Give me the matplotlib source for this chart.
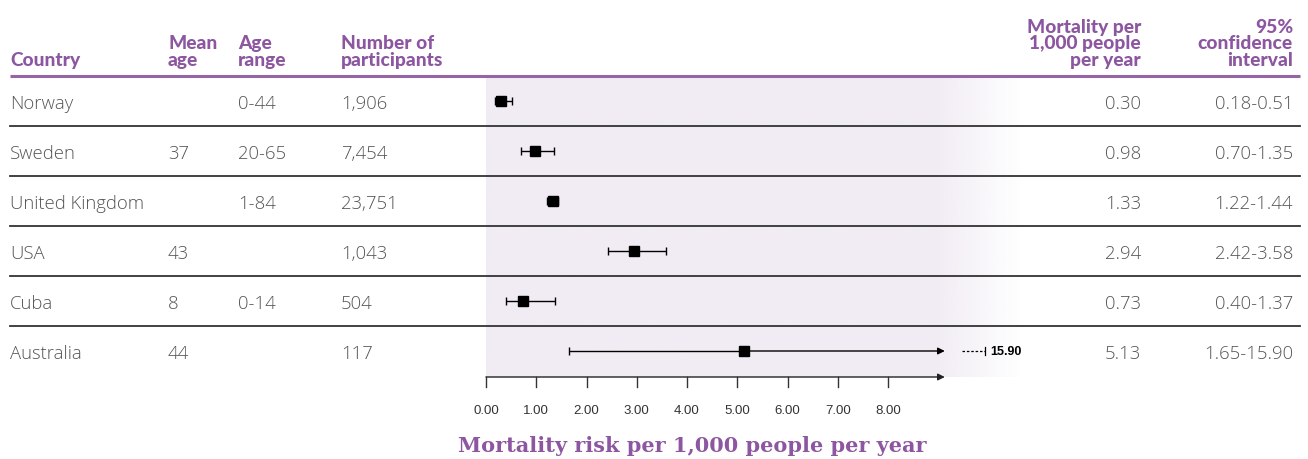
import numpy as np
import matplotlib
matplotlib.use("Agg")
import matplotlib.pyplot as plt
from matplotlib.transforms import blended_transform_factory

# ---------------- data ----------------
countries = ["Norway", "Sweden", "United Kingdom", "USA", "Cuba", "Australia"]
mean_age = ["", "37", "", "43", "8", "44"]
age_range = ["0-44", "20-65", "1-84", "", "0-14", ""]
participants = ["1,906", "7,454", "23,751", "1,043", "504", "117"]
mortality = [0.30, 0.98, 1.33, 2.94, 0.73, 5.13]
ci_low = [0.18, 0.70, 1.22, 2.42, 0.40, 1.65]
ci_high = [0.51, 1.35, 1.44, 3.58, 1.37, 15.90]
ticks = [0, 1, 2, 3, 4, 5, 6, 7, 8]
axis_max = 9.13          # where the drawn axis (and truncated bars) end

headers_left = ["Country", "Mean\nage", "Age\nrange", "Number of\nparticipants"]
headers_right = ["Mortality per\n1,000 people\nper year", "95%\nconfidence\ninterval"]
x_title = "Mortality risk per 1,000 people per year"

PURPLE = "#8d56a0"
GRAY = "#555555"
SHADE = np.array([241, 236, 244]) / 255.0

W, H = 1308, 460
fig = plt.figure(figsize=(W / 100, H / 100), dpi=100)
ax = fig.add_axes([0, 0, 1, 1])
ax.set_axis_off()

# pixel mapping (x=0 at px 486, 50.25 px per unit; row i centred at px 102+50i)
x0_px, ppu = 486, 50.25
ax.set_xlim(-x0_px / ppu, (W - x0_px) / ppu)
ax.set_ylim((H - 102) / 50, -102 / 50)

n = len(countries)
rows = np.arange(n)
axis_y = n - 0.48

# shaded band with fade on right
fade_start, shade_end = (935 - x0_px) / ppu, (1022 - x0_px) / ppu
xs = np.linspace(0, shade_end, 600)
alpha = np.clip((shade_end - xs) / (shade_end - fade_start), 0, 1)
img = np.ones((2, len(xs), 4))
img[..., :3] = SHADE
img[..., 3] = alpha
ax.imshow(img, extent=(0, shade_end, axis_y, -0.5), aspect="auto", zorder=0,
          interpolation="bilinear")

# table lines
xf = blended_transform_factory(ax.transAxes, ax.transData)
ax.plot([10 / W, 1300 / W], [-0.5, -0.5], color="#9565a6", lw=2.2, transform=xf,
        solid_capstyle="butt", zorder=2)
for i in range(n - 1):
    ax.plot([10 / W, 1300 / W], [i + 0.5, i + 0.5], color="#333333", lw=1.3,
            transform=xf, zorder=2)

# table text
body = dict(fontsize=13.3, color=GRAY, va="center", family="Open Sans",
            fontweight="light", transform=xf)
left_cols = [10, 168, 238, 341]
ty = 0.04
for i in range(n):
    for col, vals in zip(left_cols, [countries, mean_age, age_range, participants]):
        ax.text(col / W, i + ty, vals[i], ha="left", **body)
    ax.text(1141 / W, i + ty, f"{mortality[i]:.2f}", ha="right", **body)
    ax.text(1293 / W, i + ty, f"{ci_low[i]:.2f}-{ci_high[i]:.2f}", ha="right", **body)

hdr = dict(fontsize=13.8, color=PURPLE, fontweight="black", family="Lato",
           va="baseline", linespacing=0.98, transform=fig.transFigure)
for col, t in zip(left_cols, headers_left):
    ax.text(col / W, 1 - 66 / H, t, ha="left", **hdr)
ax.text(1141 / W, 1 - 66 / H, headers_right[0], ha="right", multialignment="right", **hdr)
ax.text(1293 / W, 1 - 66 / H, headers_right[1], ha="right", multialignment="right", **hdr)

# forest plot marks
for i in range(n):
    hi = ci_high[i]
    up = hi - mortality[i] if hi <= axis_max else 0
    ax.errorbar(mortality[i], i, xerr=[[mortality[i] - ci_low[i]], [up]],
                fmt="s", color="black", ms=6.5, lw=1.0, capsize=3, capthick=1.0,
                zorder=4)
    if hi > axis_max:
        ax.annotate("", xy=(axis_max, i), xytext=(mortality[i], i),
                    arrowprops=dict(arrowstyle="-|>", color="black", lw=1.0,
                                    mutation_scale=10, shrinkA=0, shrinkB=0),
                    zorder=4)
        d0, d1 = axis_max + 0.34, axis_max + 0.80
        ax.plot([d0, d1], [i, i], color="black", lw=0.9, ls=(0, (2, 1.5)), zorder=4)
        ax.plot([d1, d1], [i - 0.08, i + 0.08], color="black", lw=0.9, zorder=4)
        ax.text(d1 + 0.1, i, f"{hi:.2f}", fontsize=9, fontweight="bold",
                family="Liberation Sans", va="center", ha="left", color="black")

# axis with arrow
ax.annotate("", xy=(axis_max, axis_y), xytext=(0, axis_y),
            arrowprops=dict(arrowstyle="-|>", color="#222222", lw=1.0,
                            mutation_scale=10, shrinkA=0, shrinkB=0), zorder=3)
for t in ticks:
    ax.plot([t, t], [axis_y, axis_y + 0.2], color="#333333", lw=1.0, zorder=3)
    ax.text(t, axis_y + 0.66, f"{t:.2f}", ha="center", va="center", fontsize=9.5,
            family="Liberation Sans", color="#333333")

ax.text(692 / W, 1 - 446 / H, x_title, ha="center", va="center", fontsize=15,
        color=PURPLE, family="DejaVu Serif", fontweight="bold",
        transform=fig.transFigure)

fig.savefig("out.png", dpi=100)
